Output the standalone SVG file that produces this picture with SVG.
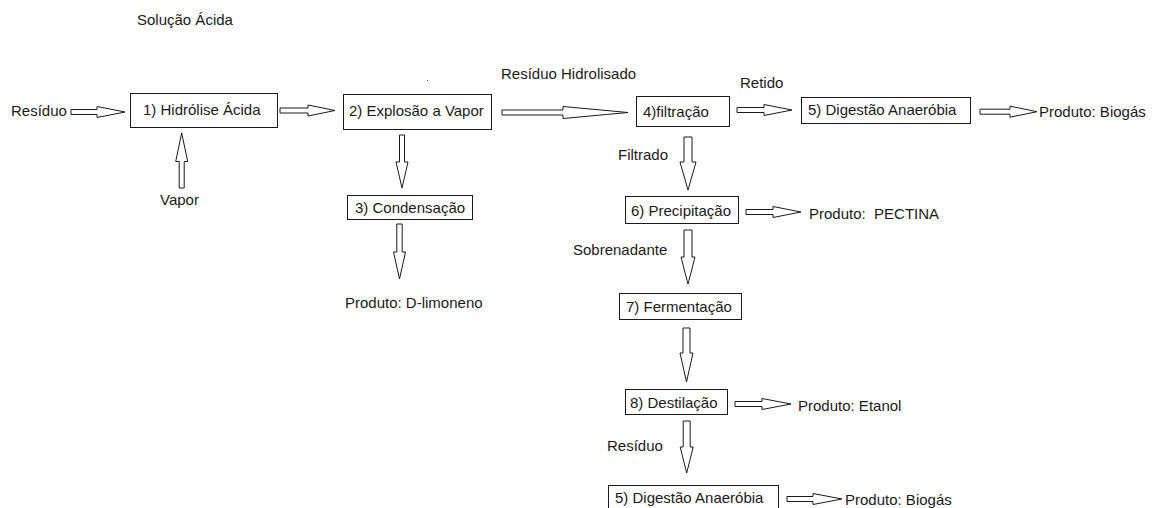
<svg xmlns="http://www.w3.org/2000/svg" width="1153" height="508" viewBox="0 0 1153 508">
<style>
  text { font-family: "Liberation Sans", Arial, sans-serif; font-size: 15px; fill: #1a1a1a; }
  .box { fill: #ffffff; stroke: #1a1a1a; stroke-width: 1; }
  .arr { fill: #ffffff; stroke: #1a1a1a; stroke-width: 1; stroke-linejoin: miter; }
</style>
<rect x="0" y="0" width="1153" height="508" fill="#ffffff"/>

<g id="labels">
  <text x="137" y="25">Solução Ácida</text>
  <text x="11" y="116">Resíduo</text>
  <text x="160" y="205">Vapor</text>
  <text x="501" y="79">Resíduo Hidrolisado</text>
  <text x="740" y="88">Retido</text>
  <text x="1039" y="117">Produto: Biogás</text>
  <text x="618" y="160">Filtrado</text>
  <text x="809" y="219" xml:space="preserve">Produto:  PECTINA</text>
  <text x="345" y="308">Produto: D-limoneno</text>
  <text x="573" y="255">Sobrenadante</text>
  <text x="798" y="411">Produto: Etanol</text>
  <text x="607" y="451">Resíduo</text>
  <text x="845" y="505">Produto: Biogás</text>
  <rect x="427" y="80" width="1" height="1" fill="#555555"/>
</g>

<g id="node-1">
  <rect class="box" x="130.5" y="93.5" width="147" height="34"/>
  <text x="143" y="115">1) Hidrólise Ácida</text>
</g>
<g id="node-2">
  <rect class="box" x="343.5" y="94.5" width="148" height="35"/>
  <text x="349" y="116">2) Explosão a Vapor</text>
</g>
<g id="node-3">
  <rect class="box" x="347.5" y="195.5" width="125" height="24"/>
  <text x="355" y="213">3) Condensação</text>
</g>
<g id="node-4">
  <rect class="box" x="636.5" y="96.5" width="93" height="30"/>
  <text x="643" y="117">4)filtração</text>
</g>
<g id="node-5a">
  <rect class="box" x="801.5" y="97.5" width="169" height="26"/>
  <text x="808" y="115">5) Digestão Anaeróbia</text>
</g>
<g id="node-6">
  <rect class="box" x="625.5" y="196.5" width="113" height="27"/>
  <text x="631" y="216">6) Precipitação</text>
</g>
<g id="node-7">
  <rect class="box" x="619.5" y="293.5" width="122" height="26"/>
  <text x="626" y="312">7) Fermentação</text>
</g>
<g id="node-8">
  <rect class="box" x="625.5" y="389.5" width="102" height="25"/>
  <text x="630" y="408">8) Destilação</text>
</g>
<g id="node-5b">
  <rect class="box" x="608.5" y="485.5" width="170" height="30"/>
  <text x="615" y="503">5) Digestão Anaeróbia</text>
</g>

<g id="connectors">
  <polygon class="arr" points="71,109.5 97,109.5 97,106.5 125,112 97,117.5 97,114.5 71,114.5"/>
  <polygon class="arr" points="280,108 308,108 308,105 335,110.5 308,116 308,113 280,113"/>
  <polygon class="arr" points="179.2,188 179.2,161.5 175.7,161.5 181.7,133 187.7,161.5 184.2,161.5 184.2,188"/>
  <polygon class="arr" points="399.5,135 399.5,162 396,162 402,188 408,162 404.5,162 404.5,135"/>
  <polygon class="arr" points="502,110 563,110 563,106.5 628,112.5 563,118.5 563,115 502,115"/>
  <polygon class="arr" points="737,107.5 764,107.5 764,104.5 792,110 764,115.5 764,112.5 737,112.5"/>
  <polygon class="arr" points="980,109.2 1010,109.2 1010,106.2 1037,111.7 1010,117.2 1010,114.2 980,114.2"/>
  <polygon class="arr" points="684,137 684,162 680,162 688,190 696,162 692,162 692,137"/>
  <polygon class="arr" points="396.8,224 396.8,252 393.5,252 399.5,279 405.5,252 402.2,252 402.2,224"/>
  <polygon class="arr" points="746,209.5 773,209.5 773,206.5 801,212 773,217.5 773,214.5 746,214.5"/>
  <polygon class="arr" points="684,230 684,257 681,257 688,284 695,257 692,257 692,230"/>
  <polygon class="arr" points="683,328 683,353 680,353 686.5,382 693,353 690,353 690,328"/>
  <polygon class="arr" points="735,401.5 762,401.5 762,398.5 791,404 762,409.5 762,406.5 735,406.5"/>
  <polygon class="arr" points="683.2,421 683.2,447 680.2,447 686.7,473 693.2,447 690.2,447 690.2,421"/>
  <polygon class="arr" points="787,496.5 813,496.5 813,493.5 842,499 813,504.5 813,501.5 787,501.5"/>
</g>
</svg>
